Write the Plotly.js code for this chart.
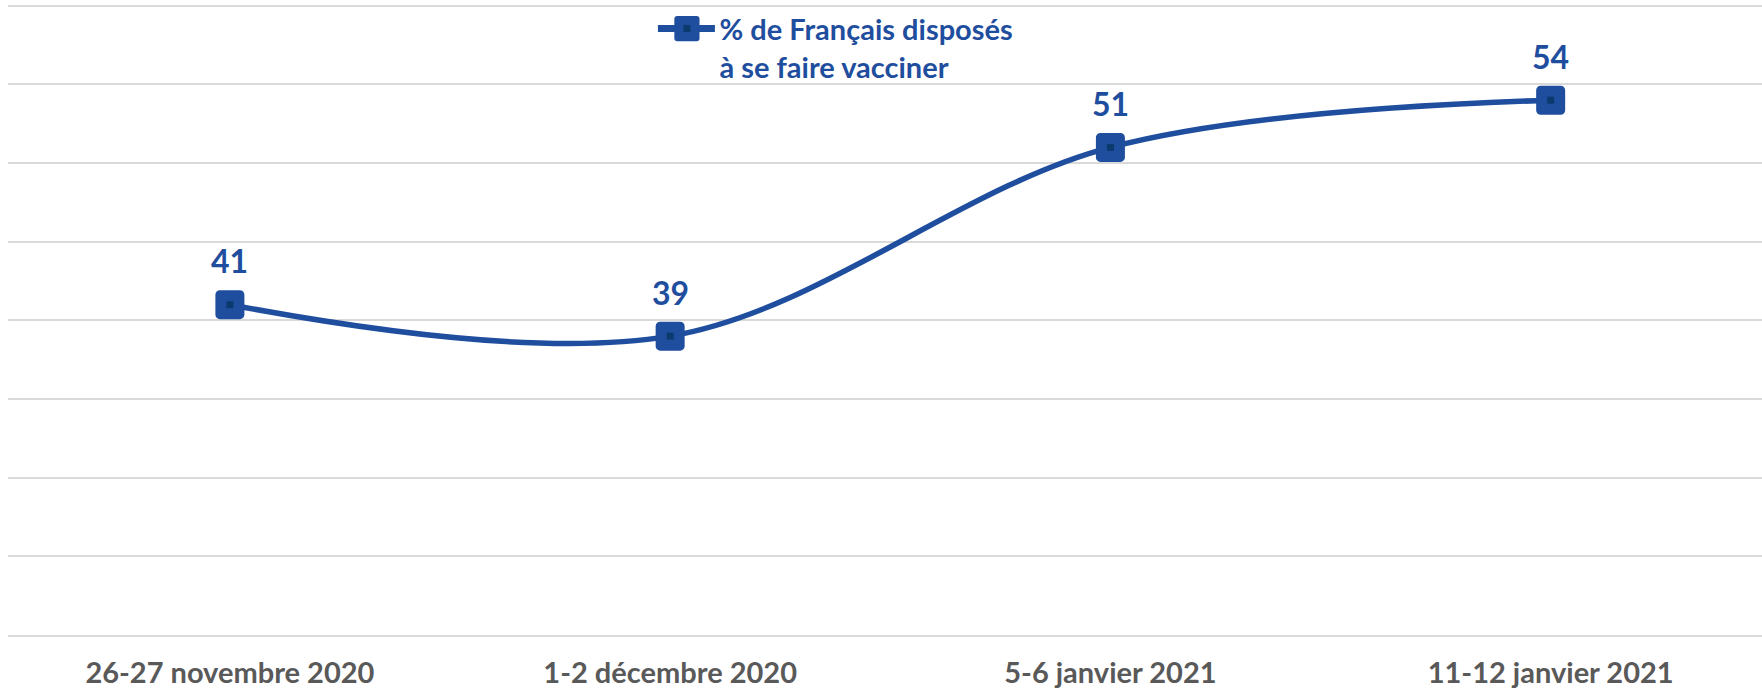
<!DOCTYPE html>
<html>
<head>
<meta charset="utf-8">
<script src="https://cdn.plot.ly/plotly-3.0.1.min.js"></script>
<style>
  html, body { margin: 0; padding: 0; background: #ffffff; }
  #chart { width: 1762px; height: 690px; }
  .scatterlayer .trace .points path { stroke-linejoin: round; }
  .legend .legendpoints path { stroke-linejoin: round; }
</style>
</head>
<body>
<div id="chart"></div>
<script>
// ---- data ----
const categories = ["26-27 novembre 2020", "1-2 décembre 2020", "5-6 janvier 2021", "11-12 janvier 2021"];
const values = [41, 39, 51, 54];
const seriesName = "% de Français disposés<br>à se faire vacciner";

const blue = "#1f4e9e";
const darkBlue = "#0b3a6e";
const fontFamily = "Lato, 'Open Sans', sans-serif";

const mainTrace = {
  x: categories,
  y: values,
  type: "scatter",
  mode: "lines+markers",
  name: seriesName,
  line: { color: blue, width: 5.5, shape: "spline", smoothing: 1 },
  marker: { symbol: "square", size: 20, color: blue, line: { color: blue, width: 9 } },
  hoverinfo: "x+y"
};

const dotTrace = {
  x: categories,
  y: values,
  type: "scatter",
  mode: "markers",
  showlegend: false,
  hoverinfo: "skip",
  marker: { symbol: "square", size: 7, color: darkBlue, line: { width: 0 } }
};

const annotations = categories.map((c, i) => ({
  x: c,
  y: values[i],
  xref: "x",
  yref: "y",
  text: String(values[i]),
  showarrow: false,
  yanchor: "middle",
  yshift: 44,
  font: { family: fontFamily, size: 32, color: blue, weight: 700 }
}));

const layout = {
  width: 1762,
  height: 690,
  margin: { l: 8, r: 0, t: 0, b: 55 },
  paper_bgcolor: "#ffffff",
  plot_bgcolor: "#ffffff",
  showlegend: true,
  legend: {
    x: 0.3828,
    xanchor: "left",
    y: 0.995,
    yanchor: "top",
    valign: "top",
    bgcolor: "rgba(0,0,0,0)",
    font: { family: fontFamily, size: 29, color: blue, weight: 700 }
  },
  xaxis: {
    type: "category",
    range: [-0.504, 3.48],
    showgrid: false,
    zeroline: false,
    showline: true,
    linecolor: "#d9d9d9",
    linewidth: 2,
    ticks: "",
    ticklabelstandoff: 11,
    tickfont: { family: fontFamily, size: 29, color: "#595959", weight: 700 },
    automargin: false,
    fixedrange: true
  },
  yaxis: {
    range: [20, 60.37],
    tick0: 20,
    dtick: 5,
    showgrid: true,
    gridcolor: "#d9d9d9",
    gridwidth: 1.5,
    zeroline: false,
    showticklabels: false,
    showline: false,
    ticks: "",
    automargin: false,
    fixedrange: true
  },
  annotations: annotations,
  hovermode: "closest"
};

Plotly.newPlot("chart", [mainTrace, dotTrace], layout, { displayModeBar: false }).then(() => {
  // let the legend symbol extend beyond the legend box and enlarge it like the reference
  document.querySelectorAll(".legend [clip-path]").forEach(el => el.removeAttribute("clip-path"));
  document.querySelectorAll(".legend .legendlines path").forEach(p => {
    p.setAttribute("d", "M-21.5,0h57");
    p.style.strokeWidth = "7px";
  });
  document.querySelectorAll(".legend .legendpoints path").forEach(p => {
    p.setAttribute("transform", "translate(7.5,0) scale(1.2)");
    const dot = p.cloneNode(true);
    dot.style.fill = darkBlue;
    dot.style.stroke = "none";
    dot.setAttribute("transform", "translate(7.5,0) scale(0.44)");
    p.parentNode.appendChild(dot);
  });
});
</script>
</body>
</html>
